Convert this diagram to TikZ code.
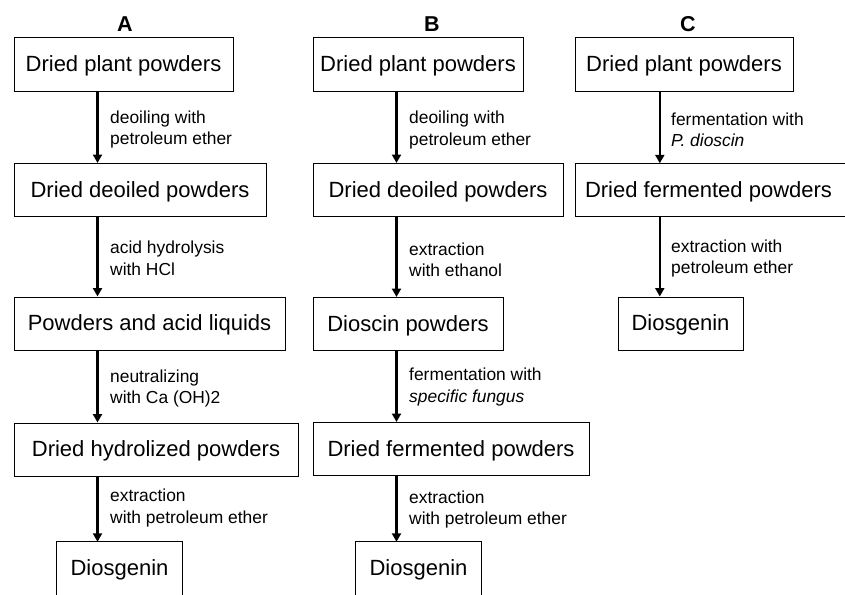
\documentclass[tikz,border=0pt]{standalone}
\usepackage{fontspec}
\setmainfont{Liberation Sans}
\usetikzlibrary{arrows.meta}
\tikzset{
  boxnode/.style={draw=black, line width=1pt, minimum height=53pt, inner sep=0pt, anchor=center,
    text height=16pt, text depth=2pt, font=\fontsize{22}{26}\selectfont},
  textonly/.style={draw=none, minimum height=53pt, inner sep=0pt, anchor=center,
    text height=16pt, text depth=2pt, font=\fontsize{22}{26}\selectfont},
  boxline/.style={draw=black, line width=1pt},
  stepline/.style={line width=2.3pt, -{Triangle[length=8.5pt,width=9pt]}},
  steplabel/.style={anchor=west, align=left, inner sep=0pt, font=\fontsize{17.4}{21.5}\selectfont},
  colhead/.style={inner sep=0pt, font=\fontsize{21.5}{25}\selectfont\bfseries}
}
\begin{document}
\begin{tikzpicture}[x=1pt,y=-1pt]
\useasboundingbox (0,0) rectangle (845,594);
\clip (0,0) rectangle (845,594);

% headings
\node[colhead] (hA) at (125,24.5) {A};
\node[colhead] (hB) at (432,24.5) {B};
\node[colhead] (hC) at (688,24.5) {C};

% column A
\node[boxnode, minimum width=219pt] (A1) at (123.5,64.5) {Dried plant powders};
\node[boxnode, minimum width=252pt] (A2) at (140,190) {Dried deoiled powders};
\node[boxnode, minimum width=271pt] (A3) at (149.5,323.5) {Powders and acid liquids};
\node[boxnode, minimum width=284pt] (A4) at (156,449.5) {Dried hydrolized powders};
\node[textonly, minimum width=125pt] (A5) at (119.5,568.5) {Diosgenin};
\draw[boxline] ([yshift=-12pt]A5.south west) -- (A5.north west) -- (A5.north east) -- ([yshift=-12pt]A5.south east);

\draw[stepline] ([xshift=84pt]A1.south west) -- ([xshift=84pt]A1.south west |- A2.north);
\draw[stepline] ([xshift=84pt]A2.south west) -- ([xshift=84pt]A2.south west |- A3.north);
\draw[stepline] ([xshift=84pt]A3.south west) -- ([xshift=84pt]A3.south west |- A4.north);
\draw[stepline] ([xshift=84pt]A4.south west) -- ([xshift=84pt]A4.south west |- A5.north);

\node[steplabel] (la1) at (110,129.5) {deoiling with\\petroleum ether};
\node[steplabel] (la2) at (110,258.5) {acid hydrolysis\\with HCl};
\node[steplabel] (la3) at (110,388.5) {neutralizing\\with Ca (OH)2};
\node[steplabel] (la4) at (110,508) {extraction\\with petroleum ether};

% column B
\node[boxnode, minimum width=210pt] (B1) at (418,64.5) {Dried plant powders};
\node[boxnode, minimum width=250pt] (B2) at (438,190) {Dried deoiled powders};
\node[boxnode, minimum width=190pt] (B3) at (408,324) {Dioscin powders};
\node[boxnode, minimum width=276pt] (B4) at (451,449) {Dried fermented powders};
\node[textonly, minimum width=125pt] (B5) at (418.5,568.5) {Diosgenin};
\draw[boxline] ([yshift=-12pt]B5.south west) -- (B5.north west) -- (B5.north east) -- ([yshift=-12pt]B5.south east);

\draw[stepline] ([xshift=84pt]B1.south west) -- ([xshift=84pt]B1.south west |- B2.north);
\draw[stepline] ([xshift=84pt]B2.south west) -- ([xshift=84pt]B2.south west |- B3.north);
\draw[stepline] ([xshift=84pt]B3.south west) -- ([xshift=84pt]B3.south west |- B4.north);
\draw[stepline] ([xshift=84pt]B4.south west) -- ([xshift=84pt]B4.south west |- B5.north);

\node[steplabel] (lb1) at (409,130) {deoiling with\\petroleum ether};
\node[steplabel] (lb2) at (409,260) {extraction\\with ethanol};
\node[steplabel] (lb3) at (409,387) {fermentation with\\\textit{specific fungus}};
\node[steplabel] (lb4) at (409,509.5) {extraction\\with petroleum ether};

% column C
\node[boxnode, minimum width=218pt] (C1) at (684,64.5) {Dried plant powders};
\node[textonly, minimum width=265pt] (C2) at (708.5,190) {Dried fermented powders};
\draw[boxline] ([xshift=30pt]C2.north east) -- (C2.north west) -- (C2.south west) -- ([xshift=30pt]C2.south east);
\node[boxnode, minimum width=125pt] (C3) at (680.5,323.5) {Diosgenin};

\draw[stepline] ([xshift=84pt]C2.north west |- C1.south) -- ([xshift=84pt]C2.north west);
\draw[stepline] ([xshift=84pt]C2.south west) -- ([xshift=84pt]C2.south west |- C3.north);

\node[steplabel] (lc1) at (671,130) {fermentation with\\\textit{P. dioscin}};
\node[steplabel] (lc2) at (671,258.5) {extraction with\\petroleum ether};
\end{tikzpicture}
\end{document}
